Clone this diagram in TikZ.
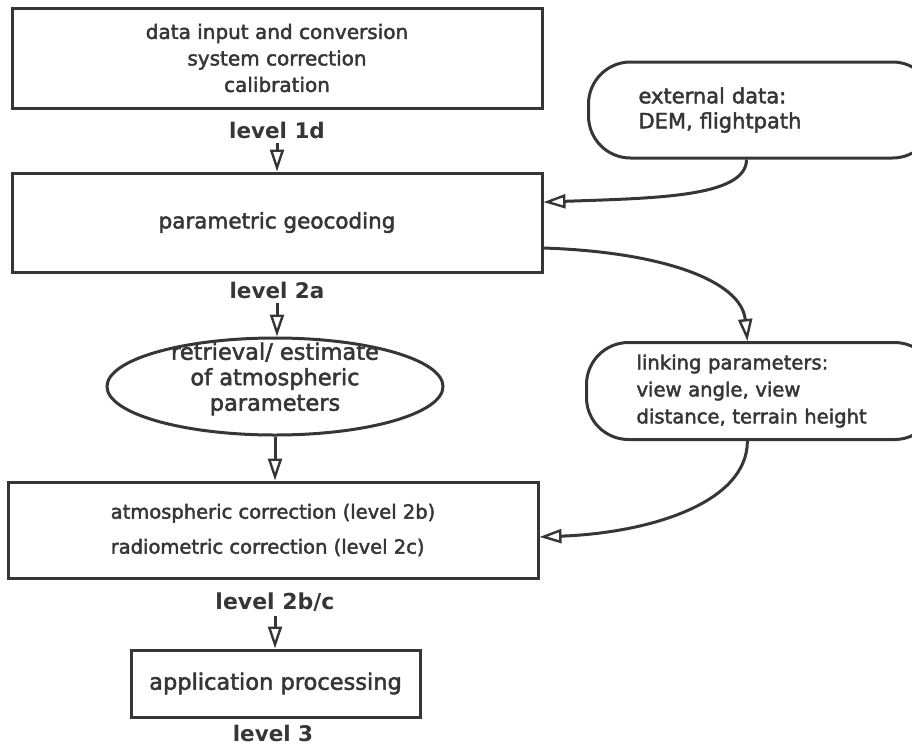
\documentclass[tikz,border=0pt]{standalone}
\usepackage{fontspec}
\setmainfont{DejaVu Sans}
\newfontfamily\medfont{DejaVu Sans}[FakeBold=2.2]
\usetikzlibrary{arrows.meta,shapes.geometric,calc}
\definecolor{ink}{HTML}{363636}
\newcommand{\fsz}[2]{\medfont\fontsize{#1}{#2}\selectfont}
\newcommand{\bfsz}[2]{\fontsize{#1}{#2}\selectfont\bfseries}
\begin{document}
\begin{tikzpicture}[x=1pt,y=-1pt,color=ink,line width=3pt,
  box/.style={draw,rectangle,inner sep=0pt,align=center},
  rbox/.style={draw,rectangle,rounded corners=42pt,anchor=west,align=left,inner xsep=50pt,inner ysep=0pt},
  lvl/.style={font=\bfsz{21.5}{24},inner sep=3pt},
  arr/.style={-{Triangle[open,length=22pt,width=14pt,line width=2.4pt]}}]
\useasboundingbox (0,0) rectangle (912,745);
% boxes
\node[box,minimum width=530,minimum height=100,font=\fsz{20}{26.5}] (b1) at (277,58)
  {data input and conversion\\system correction\\calibration};
\node[lvl] (l1) at (277,130) {level 1d};
\node[box,minimum width=530,minimum height=99,font=\fsz{21.5}{24}] (b2) at (277,222.5)
  {\raisebox{-5pt}{parametric geocoding}};
\node[lvl] (l2a) at (277,290) {level 2a};
\node[draw,ellipse,minimum width=336,minimum height=97,inner sep=0pt] (ell) at (275,386.5) {};
\node[align=center,font=\fsz{22.5}{25.5},inner sep=0pt] (ellt) at (275,379)
  {retrieval/ estimate\\of atmospheric\\parameters};
\node[box,minimum width=530,minimum height=96,align=left,font=\fsz{19.5}{35}] (b3) at (273,530)
  {atmospheric correction (level 2b)\\radiometric correction (level 2c)};
\node[lvl,font=\bfsz{22}{24}] (l2bc) at (275,602) {level 2b/c};
\node[box,minimum width=289,minimum height=67,font=\fsz{22.5}{25}] (b4) at (275.5,683.5)
  {application processing};
\node[lvl] (l3) at (273,733) {level 3};
\node[rbox,text width=246,minimum height=96,font=\fsz{21}{25}] (ext) at (587,110)
  {external data:\\DEM, flightpath};
\node[rbox,text width=250,minimum height=97,font=\fsz{19.6}{27}] (lnk) at (585,391)
  {linking parameters:\\view angle, view\\distance, terrain height};
% connectors
\draw[arr] (l1.south) -- (l1.south |- b2.north);
\draw[arr] (l2a.south) -- (l2a.south |- ell.north);
\draw[arr] (ell.south) -- (ell.south |- b3.north);
\draw[arr] (l2bc.south) -- (l2bc.south |- b4.north);
\draw[arr] ($(ext.south west)!0.457!(ext.south east)$) .. controls +(0,38) and +(110,-4) ..
  ($(b2.north east)!0.3!(b2.south east)$);
\draw[arr] ($(b2.north east)!0.75!(b2.south east)$) .. controls +(120,4) and +(-6,-60) ..
  ($(lnk.north west)!0.46!(lnk.north east)$);
\draw[arr] ($(lnk.south west)!0.46!(lnk.south east)$) .. controls +(0,62) and +(110,-4) ..
  ($(b3.north east)!0.57!(b3.south east)$);
\end{tikzpicture}
\end{document}
